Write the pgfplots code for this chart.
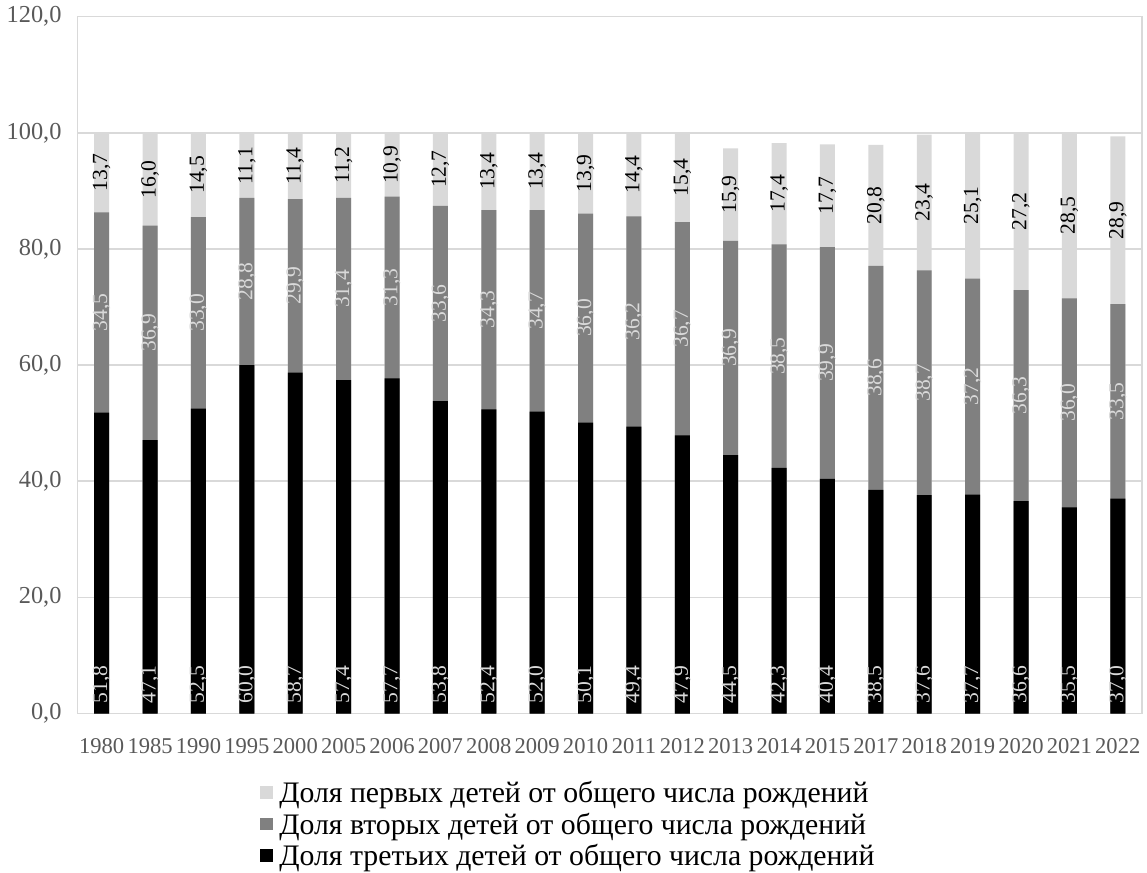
\documentclass[border=0pt]{standalone}
\usepackage{pgfplots}
\pgfplotsset{compat=1.18}
\usepackage{pgfplotstable}
\usepackage{fontspec}
\setmainfont{Liberation Serif}

\definecolor{lite}{HTML}{D9D9D9}
\definecolor{mid}{HTML}{808080}
\definecolor{gridc}{HTML}{D9D9D9}
\definecolor{tickc}{HTML}{595959}

% b = third, g = second, l = first (share of births, %)
\pgfplotstableread{
x year b g l
0 1980 51.8 34.5 13.7
1 1985 47.1 36.9 16.0
2 1990 52.5 33.0 14.5
3 1995 60.0 28.8 11.1
4 2000 58.7 29.9 11.4
5 2005 57.4 31.4 11.2
6 2006 57.7 31.3 10.9
7 2007 53.8 33.6 12.7
8 2008 52.4 34.3 13.4
9 2009 52.0 34.7 13.4
10 2010 50.1 36.0 13.9
11 2011 49.4 36.2 14.4
12 2012 47.9 36.7 15.4
13 2013 44.5 36.9 15.9
14 2014 42.3 38.5 17.4
15 2015 40.4 39.9 17.7
16 2017 38.5 38.6 20.8
17 2018 37.6 38.7 23.4
18 2019 37.7 37.2 25.1
19 2020 36.6 36.3 27.2
20 2021 35.5 36.0 28.5
21 2022 37.0 33.5 28.9
}\births

\begin{document}
\begin{tikzpicture}
\begin{axis}[
  scale only axis,
  width=533pt, height=349pt,
  xmin=-0.5, xmax=21.5,
  ymin=0, ymax=120,
  ytick={0,20,...,120},
  /pgf/number format/assume math mode=true,
  xtick=data,
  xticklabels from table={\births}{year},
  tick label style={font=\fontsize{11.3}{13}\selectfont, text=tickc},
  yticklabel style={xshift=-4.5pt, font=\fontsize{12.2}{13}\selectfont,
    /pgf/number format/fixed, /pgf/number format/fixed zerofill,
    /pgf/number format/precision=1, /pgf/number format/use comma},
  xticklabel style={yshift=-9pt},
  major tick length=0pt,
  ymajorgrids, grid style={gridc, line width=0.8pt},
  axis line style={draw=gridc, line width=0.8pt},
  legend style={draw=none, at={(0.463,-0.091)}, anchor=north,
    font=\fontsize{14.9}{15}\selectfont, legend columns=1,
    row sep=-0.4pt, inner sep=0pt,
    nodes={inner xsep=3pt}},
  legend cell align=left,
  legend image code/.code={\fill[#1] (-1pt,-2.6pt) rectangle (5.5pt,3.6pt);},
  clip=false,
]
% bars: drawn as total, first two, first, overlapped
\addplot[ybar, bar width=7.5pt, bar shift=0pt, fill=lite, draw=none]
  table[x=x, y expr=\thisrow{b}+\thisrow{g}+\thisrow{l}] {\births};
\addlegendentry{Доля первых детей от общего числа рождений}
\addplot[ybar, bar width=7.5pt, bar shift=0pt, fill=mid, draw=none]
  table[x=x, y expr=\thisrow{b}+\thisrow{g}] {\births};
\addlegendentry{Доля вторых детей от общего числа рождений}
\addplot[ybar, bar width=7.5pt, bar shift=0pt, fill=black, draw=none]
  table[x=x, y=b] {\births};
\addlegendentry{Доля третьих детей от общего числа рождений}

% value labels
\pgfplotsset{lbl/.style={draw=none, mark=none, forget plot, point meta=explicit,
  nodes near coords={\pgfmathprintnumber[fixed, fixed zerofill, precision=1, use comma, assume math mode=true]{\pgfplotspointmeta}},
  every node near coord/.append style={rotate=90, font=\fontsize{10.8}{12}\selectfont}}}
\addplot[lbl, every node near coord/.append style={anchor=center, text=black}]
  table[x=x, y expr=\thisrow{b}+\thisrow{g}+\thisrow{l}/2, meta=l] {\births};
\addplot[lbl, every node near coord/.append style={anchor=center, text=lite}]
  table[x=x, y expr=\thisrow{b}+\thisrow{g}/2, meta=g] {\births};
\addplot[lbl, every node near coord/.append style={anchor=west, inner sep=5pt, text=lite}]
  table[x=x, y expr=0, meta=b] {\births};
\end{axis}
\end{tikzpicture}
\end{document}
